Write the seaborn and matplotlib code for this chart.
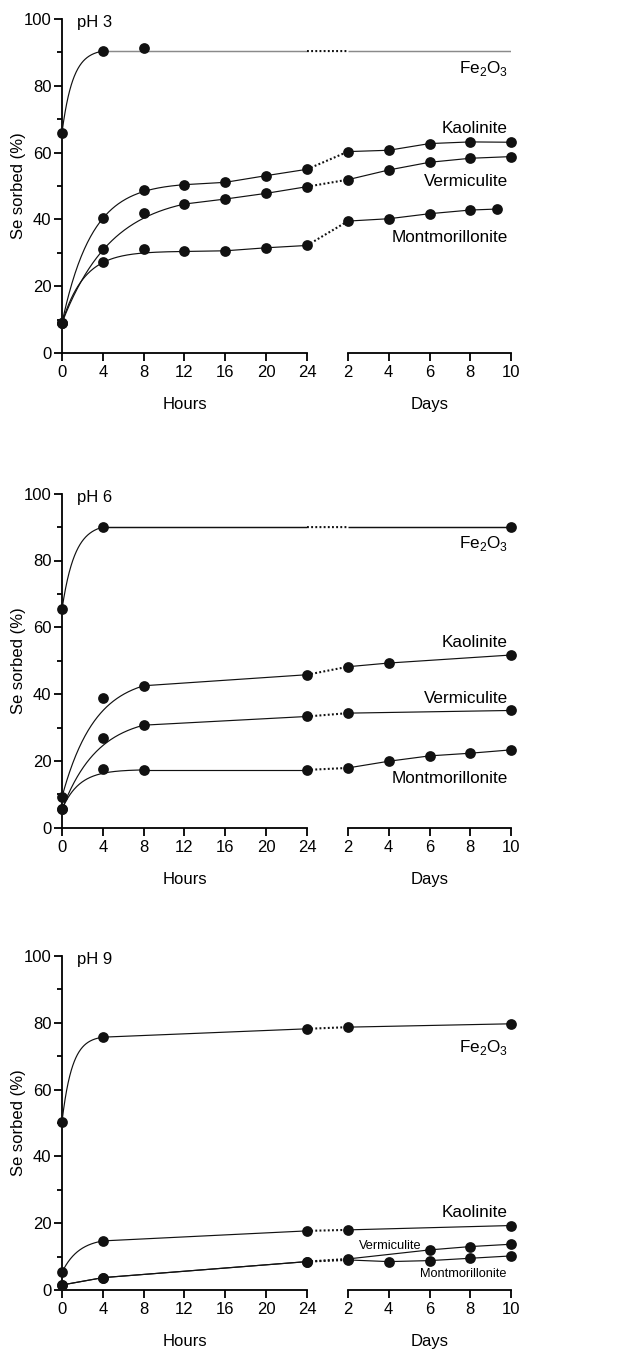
import numpy as np
import seaborn as sns
import matplotlib
matplotlib.use("Agg")
import matplotlib.pyplot as plt
from matplotlib.patches import ConnectionPatch
from matplotlib.ticker import MultipleLocator

sns.set_theme(style="ticks")
plt.rcParams["font.family"] = ["Liberation Sans", "DejaVu Sans"]
plt.rcParams["mathtext.fontset"] = "custom"
plt.rcParams["mathtext.rm"] = "Liberation Sans"

# ---------------------------------------------------------------- data
# Se sorbed (%) versus contact time: hours (0-24 h) then days (2-10 d)

# pH 3
ph3_hours = [0, 4, 8, 12, 16, 20, 24]
ph3_days = [2, 4, 6, 8, 10]
ph3_fe_hours = [0, 4, 8]
ph3_fe = [66.0, 90.4, 91.4]
ph3_kao = [9.0, 40.3, 48.8, 50.4, 51.1, 53.1, 55.0]
ph3_kao_days = [60.3, 60.7, 62.7, 63.2, 63.1]
ph3_ver = [9.0, 31.0, 41.8, 44.6, 46.1, 47.8, 49.8]
ph3_ver_days = [51.9, 54.8, 57.1, 58.3, 58.8]
ph3_mon = [9.0, 27.1, 31.1, 30.4, 30.6, 31.5, 32.2]
ph3_mon_dayx = [2, 4, 6, 8, 9.3]
ph3_mon_days = [39.5, 40.2, 41.7, 42.8, 43.1]

# pH 6
ph6_hours = [0, 4, 8, 24]
ph6_fe_hours = [0, 4]
ph6_fe = [65.4, 90.0]
ph6_fe_dayx = [10]
ph6_fe_days = [90.0]
ph6_kao = [9.2, 38.9, 42.5, 45.8]
ph6_kao_dayx = [2, 4, 10]
ph6_kao_days = [48.2, 49.3, 51.7]
ph6_ver = [5.5, 26.8, 30.7, 33.3]
ph6_ver_dayx = [2, 10]
ph6_ver_days = [34.3, 35.1]
ph6_mon = [5.5, 17.5, 17.3, 17.3]
ph6_mon_dayx = [2, 4, 6, 8, 10]
ph6_mon_days = [17.9, 19.9, 21.5, 22.3, 23.3]

# pH 9
ph9_hours = [0, 4, 24]
ph9_fe = [50.4, 75.7, 78.2]
ph9_fe_dayx = [2, 10]
ph9_fe_days = [78.7, 79.7]
ph9_kao = [5.3, 14.7, 17.7]
ph9_kao_dayx = [2, 10]
ph9_kao_days = [18.0, 19.3]
ph9_ver = [1.5, 3.7, 8.5]
ph9_ver_dayx = [2, 6, 8, 10]
ph9_ver_days = [9.3, 12.0, 13.0, 13.7]
ph9_mon = [1.5, 3.7, 8.5]
ph9_mon_dayx = [2, 4, 6, 8, 10]
ph9_mon_days = [9.0, 8.5, 8.8, 9.5, 10.2]

# first-order uptake fits for the early hours: end of fitted range (h), rate (1/h)
ph3_fit_end = [4, 12, 12, 12]
ph3_fit_rate = [0.93, 0.34, 0.205, 0.46]
ph6_fit_end = [4, 8, 8, 8]
ph6_fit_rate = [0.80, 0.31, 0.285, 0.59]
ph9_fit_end = [4, 4, 0, 0]
ph9_fit_rate = [1.0, 0.60, 0.0, 0.0]

mineral_names = ["Fe$_\\mathregular{2}$O$_\\mathregular{3}$", "Kaolinite",
                 "Vermiculite", "Montmorillonite"]

panels = [
    dict(title="pH 3",
         series=[
             (ph3_fe_hours, ph3_fe, [], [], True),
             (ph3_hours, ph3_kao, ph3_days, ph3_kao_days, False),
             (ph3_hours, ph3_ver, ph3_days, ph3_ver_days, False),
             (ph3_hours, ph3_mon, ph3_mon_dayx, ph3_mon_days, False),
         ],
         fit_end=ph3_fit_end, fit_rate=ph3_fit_rate,
         flat_color="#8a8a8a",
         labels=[(83.7, 12.3), (65.8, 12.3), (50.1, 12.3), (33.1, 12.3)],
         label_x=[9.85, 9.85, 9.85, 9.85]),
    dict(title="pH 6",
         series=[
             (ph6_fe_hours, ph6_fe, ph6_fe_dayx, ph6_fe_days, True),
             (ph6_hours, ph6_kao, ph6_kao_dayx, ph6_kao_days, False),
             (ph6_hours, ph6_ver, ph6_ver_dayx, ph6_ver_days, False),
             (ph6_hours, ph6_mon, ph6_mon_dayx, ph6_mon_days, False),
         ],
         fit_end=ph6_fit_end, fit_rate=ph6_fit_rate,
         flat_color="#111111",
         labels=[(83.8, 12.3), (54.1, 12.3), (37.2, 12.3), (13.5, 12.3)],
         label_x=[9.85, 9.85, 9.85, 9.85]),
    dict(title="pH 9",
         series=[
             (ph9_hours, ph9_fe, ph9_fe_dayx, ph9_fe_days, False),
             (ph9_hours, ph9_kao, ph9_kao_dayx, ph9_kao_days, False),
             (ph9_hours, ph9_ver, ph9_ver_dayx, ph9_ver_days, False),
             (ph9_hours, ph9_mon, ph9_mon_dayx, ph9_mon_days, False),
         ],
         fit_end=ph9_fit_end, fit_rate=ph9_fit_rate,
         flat_color="#111111",
         labels=[(71.2, 12.3), (21.8, 12.3), (12.3, 9.2), (3.8, 9.2)],
         label_x=[9.85, 9.85, 5.62, 9.8]),
]

# ---------------------------------------------------------------- style
INK = "#111111"
LINE_W = 0.85
SPINE_W = 1.3
MARK_S = 60
FS = 12

W, H = 638, 1354
fig = plt.figure(figsize=(W / 100, H / 100), dpi=100)

ax_h = 334 / H
left_x, left_w = 62 / W, 245 / W
right_x, right_w = 348 / W, 163 / W
bottoms = [1 - 353 / H, 1 - 827.7 / H, 1 - 1290 / H]


def style_axis(ax, show_y):
    for side in ("top", "right"):
        ax.spines[side].set_visible(False)
    for side in ("bottom", "left"):
        ax.spines[side].set_linewidth(SPINE_W)
        ax.spines[side].set_color("black")
    ax.set_facecolor("none")
    ax.set_ylim(0, 100)
    ax.tick_params(axis="x", direction="out", length=5.5, width=SPINE_W,
                   colors="black", labelsize=FS, pad=3, labelcolor="black")
    if show_y:
        ax.yaxis.set_major_locator(MultipleLocator(20))
        ax.yaxis.set_minor_locator(MultipleLocator(10))
        ax.tick_params(axis="y", which="major", direction="out", length=6,
                       width=SPINE_W, labelsize=FS, pad=1.5, colors="black")
        ax.tick_params(axis="y", which="minor", direction="out", length=3.8,
                       width=SPINE_W, colors="black")
    else:
        ax.spines["left"].set_visible(False)
        ax.tick_params(axis="y", which="both", left=False, labelleft=False)
    ax.grid(False)


def line(ax, x, y, color=INK):
    sns.lineplot(x=np.asarray(x, float), y=np.asarray(y, float), ax=ax,
                 color=color, linewidth=LINE_W, estimator=None, sort=False,
                 zorder=3)


def dots(ax, x, y):
    if len(x):
        sns.scatterplot(x=np.asarray(x, float), y=np.asarray(y, float), ax=ax,
                        color=INK, s=MARK_S, linewidth=0, clip_on=False,
                        zorder=5)


def bridge(axl, axr, y_from, x_to, y_to):
    # dotted link across the break between the hour and day axes
    con = ConnectionPatch(xyA=(24, y_from), coordsA=axl.transData,
                          xyB=(x_to, y_to), coordsB=axr.transData,
                          color=INK, linewidth=1.5, capstyle="butt",
                          linestyle=(0, (0.9, 1.1)), zorder=3)
    fig.add_artist(con)


for panel, bottom in zip(panels, bottoms):
    axl = fig.add_axes([left_x, bottom, left_w, ax_h])
    axr = fig.add_axes([right_x, bottom, right_w, ax_h])
    style_axis(axl, True)
    style_axis(axr, False)
    axl.set_xlim(0, 24)
    axl.set_xticks([0, 4, 8, 12, 16, 20, 24])
    axr.set_xlim(2, 10)
    axr.set_xticks([2, 4, 6, 8, 10])

    for (hx, hy, dx, dy, flat), t_end, k in zip(panel["series"],
                                                 panel["fit_end"],
                                                 panel["fit_rate"]):
        hx = np.asarray(hx, float)
        hy = np.asarray(hy, float)
        dots(axl, hx, hy)
        dots(axr, dx, dy)

        # fitted first-order rise over the early hours
        i_end = int(np.where(hx == t_end)[0][0])
        if t_end > 0:
            t = np.linspace(0, t_end, 160)
            y0, y1 = hy[0], hy[i_end]
            curve = y0 + (y1 - y0) * (1 - np.exp(-k * t)) / (1 - np.exp(-k * t_end))
            line(axl, t, curve)

        if flat:
            level = hy[i_end]
            fc = panel["flat_color"]
            axl.hlines(level, t_end, 24, color=fc, linewidth=LINE_W + 0.2,
                       zorder=3)
            bridge(axl, axr, level, 2, level)
            axr.hlines(level, 2, 10, color=fc, linewidth=LINE_W + 0.2,
                       zorder=3)
        else:
            line(axl, hx[i_end:], hy[i_end:])
            bridge(axl, axr, hy[-1], dx[0], dy[0])
            line(axr, dx, dy)

    for name, (ly, size), lx in zip(mineral_names, panel["labels"],
                                    panel["label_x"]):
        axr.text(lx, ly, name, ha="right", va="baseline", fontsize=size,
                 color="black")

    axl.text(1.44, 97.6, panel["title"], fontsize=FS, va="baseline",
             ha="left", color="black")

    axl.set_ylabel("Se sorbed (%)", fontsize=FS, color="black")
    axl.yaxis.set_label_coords(-0.145, 0.5)
    axl.set_xlabel("Hours", fontsize=FS, color="black")
    axl.xaxis.set_label_coords(0.5, -0.132)
    axr.set_xlabel("Days", fontsize=FS, color="black")
    axr.xaxis.set_label_coords(0.5, -0.132)

fig.savefig("out.png", dpi=100, facecolor="white")
